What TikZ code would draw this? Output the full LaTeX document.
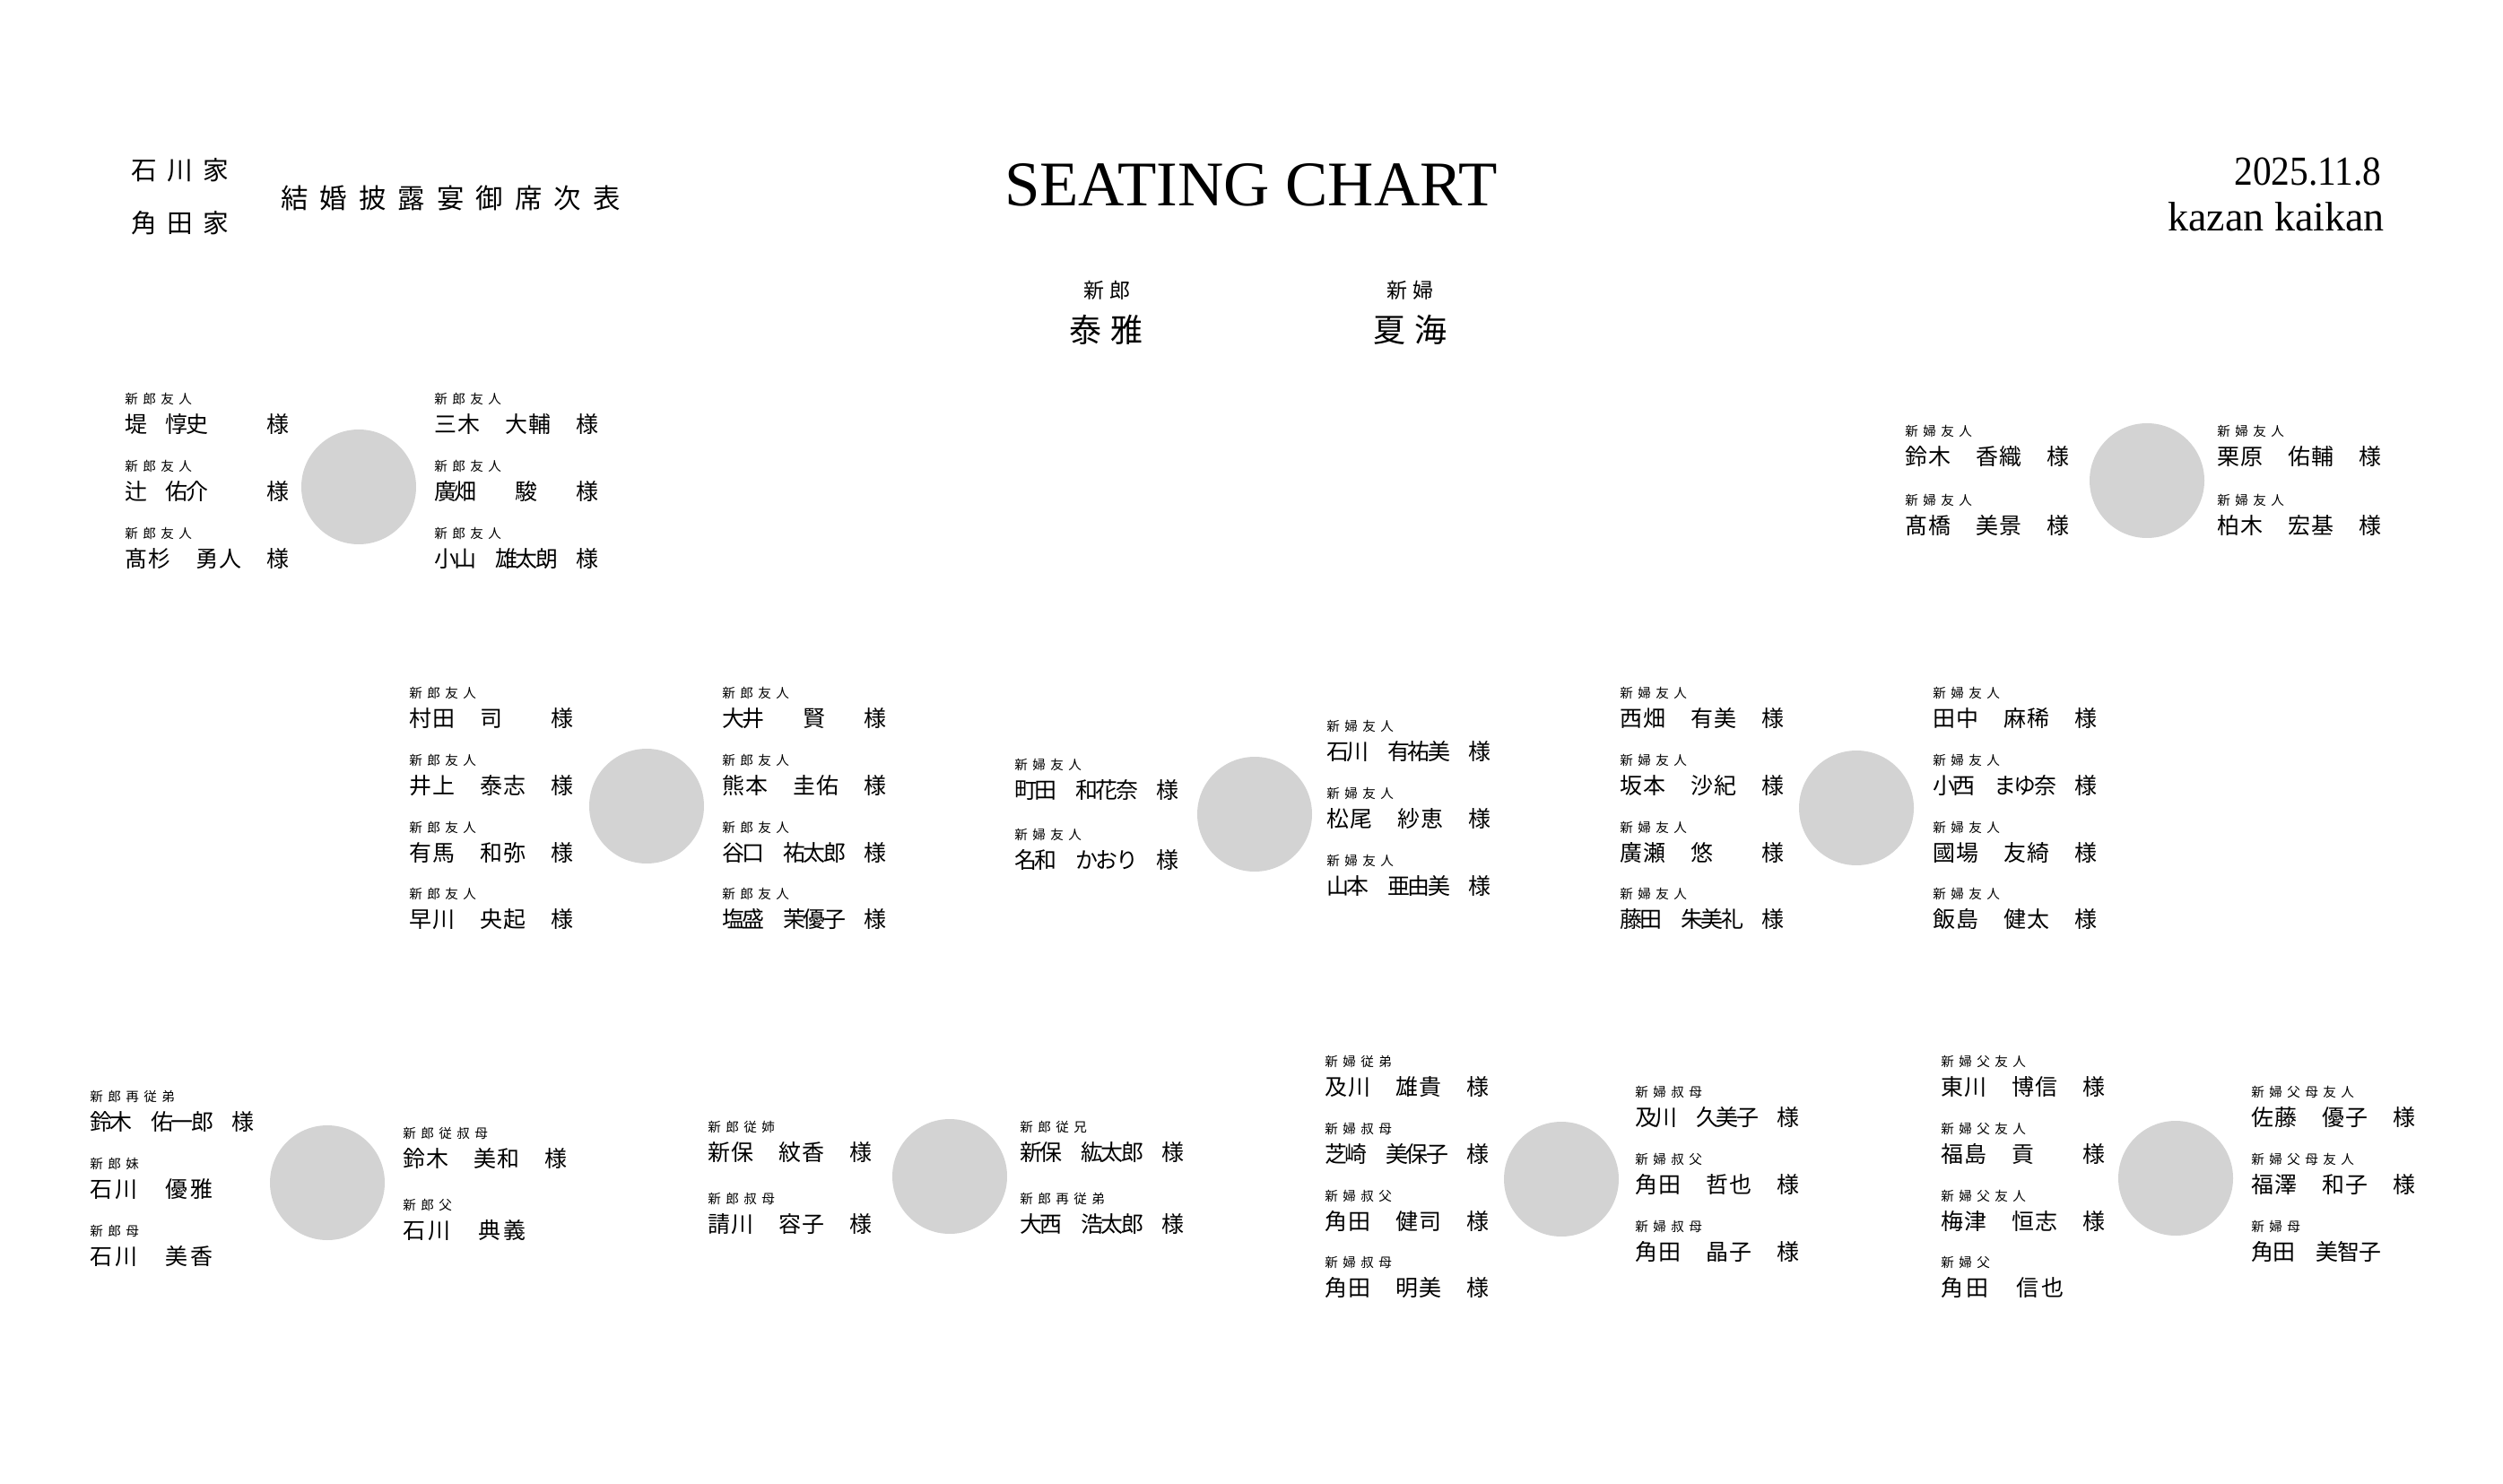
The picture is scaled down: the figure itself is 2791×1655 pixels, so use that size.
\documentclass[tikz,border=0pt]{standalone}
\usepackage{fontspec}
\setmainfont{Liberation Serif}
\newfontfamily\jpfont{Noto Sans CJK JP}
\newfontfamily\narrowfont[FakeStretch=0.9]{Liberation Serif}
\definecolor{tablegray}{RGB}{211,211,211}

% characters set in equal cells
\newlength\cellw
\newcount\cellnum
\def\putcells#1{\putcellsA#1\relax}
\def\putcellsA#1{\ifx#1\relax\else\makebox[\cellw][l]{#1}\expandafter\putcellsA\fi}
\def\countcells#1{\ifx#1\relax\else\advance\cellnum by 1 \expandafter\countcells\fi}
\newcommand\spaced[2]{\setlength\cellw{#1}\putcells{#2}}
\newcommand\fitname[1]{\cellnum=0 \countcells#1\relax
  \setlength\cellw{\dimexpr 3.16cm/\numexpr\cellnum-1\relax\relax}\putcells{#1}}

% one guest: id, x, y, relation, name
\newcommand\guest[5]{%
  \node[guestlabel] (#1-l) at (#2,#3-28) {\spaced{0.4cm}{#4}};
  \node[guestname] (#1) at (#2,#3) {#5};}

\tikzset{
  tablecircle/.style={circle, fill=tablegray, minimum size=2.56cm, inner sep=0},
  guestname/.style={anchor=west, inner sep=0, font=\jpfont\fontsize{14.2}{16}\selectfont},
  guestlabel/.style={anchor=west, inner sep=0, font=\jpfont\fontsize{8.3}{9}\selectfont},
}

\begin{document}
\begin{tikzpicture}[x=0.02cm, y=-0.02cm]
    \useasboundingbox (0,0) rectangle (2791,1655);
    \fill[white] (0,0) rectangle (2791,1655);

    % header
    \node[anchor=west, inner sep=0, font=\jpfont\fontsize{16.3}{18}\selectfont] (family1) at (146,190) {\spaced{0.8cm}{石川家}};
    \node[anchor=west, inner sep=0, font=\jpfont\fontsize{16.3}{18}\selectfont] (family2) at (146,249) {\spaced{0.8cm}{角田家}};
    \node[anchor=west, inner sep=0, font=\jpfont\fontsize{17.3}{19}\selectfont] (subtitle) at (313,221) {\spaced{0.87cm}{結婚披露宴御席次表}};
    \node[inner sep=0, font=\fontsize{40.4}{44}\selectfont] (title) at (1395,206) {SEATING CHART};
    \node[anchor=base east, inner sep=0, font=\narrowfont\fontsize{26.2}{30}\selectfont] (date) at (2656,207) {2025.11.8};
    \node[anchor=base east, inner sep=0, font=\fontsize{26.2}{30}\selectfont] (venue) at (2659,258) {kazan kaikan};

    % main table
    \node[anchor=west, inner sep=0, font=\jpfont\fontsize{13.1}{15}\selectfont] (groom-l) at (1208,324) {\spaced{0.58cm}{新郎}};
    \node[anchor=west, inner sep=0, font=\jpfont\fontsize{20.5}{23}\selectfont] (groom) at (1192,368) {\spaced{0.92cm}{泰雅}};
    \node[anchor=west, inner sep=0, font=\jpfont\fontsize{13.1}{15}\selectfont] (bride-l) at (1546,324) {\spaced{0.58cm}{新婦}};
    \node[anchor=west, inner sep=0, font=\jpfont\fontsize{20.5}{23}\selectfont] (bride) at (1531,368) {\spaced{0.92cm}{夏海}};

    % table 1
    \node[tablecircle] (t1) at (400,543) {};
    \guest{t1a}{139}{473}{新郎友人}{\fitname{堤　惇史　　　様}}
    \guest{t1b}{139}{548}{新郎友人}{\fitname{辻　佑介　　　様}}
    \guest{t1c}{139}{623}{新郎友人}{\fitname{髙杉　勇人　様}}
    \guest{t1d}{484}{473}{新郎友人}{\fitname{三木　大輔　様}}
    \guest{t1e}{484}{548}{新郎友人}{\fitname{廣畑　　駿　　様}}
    \guest{t1f}{484}{623}{新郎友人}{\fitname{小山　雄太朗　様}}

    % table 2
    \node[tablecircle] (t2) at (2394,536) {};
    \guest{t2a}{2124}{509}{新婦友人}{\fitname{鈴木　香織　様}}
    \guest{t2b}{2124}{586}{新婦友人}{\fitname{髙橋　美景　様}}
    \guest{t2c}{2472}{509}{新婦友人}{\fitname{栗原　佑輔　様}}
    \guest{t2d}{2472}{586}{新婦友人}{\fitname{柏木　宏基　様}}

    % table 3
    \node[tablecircle] (t3) at (721,899) {};
    \guest{t3a}{456}{801}{新郎友人}{\fitname{村田　司　　様}}
    \guest{t3b}{456}{876}{新郎友人}{\fitname{井上　泰志　様}}
    \guest{t3c}{456}{951}{新郎友人}{\fitname{有馬　和弥　様}}
    \guest{t3d}{456}{1025}{新郎友人}{\fitname{早川　央起　様}}
    \guest{t3e}{805}{801}{新郎友人}{\fitname{大井　　賢　　様}}
    \guest{t3f}{805}{876}{新郎友人}{\fitname{熊本　圭佑　様}}
    \guest{t3g}{805}{951}{新郎友人}{\fitname{谷口　祐太郎　様}}
    \guest{t3h}{805}{1025}{新郎友人}{\fitname{塩盛　茉優子　様}}

    % table 4
    \node[tablecircle] (t4) at (1399,908) {};
    \guest{t4a}{1131}{881}{新婦友人}{\fitname{町田　和花奈　様}}
    \guest{t4b}{1131}{959}{新婦友人}{\fitname{名和　かおり　様}}
    \guest{t4c}{1479}{838}{新婦友人}{\fitname{石川　有祐美　様}}
    \guest{t4d}{1479}{913}{新婦友人}{\fitname{松尾　紗恵　様}}
    \guest{t4e}{1479}{988}{新婦友人}{\fitname{山本　亜由美　様}}

    % table 5
    \node[tablecircle] (t5) at (2070,901) {};
    \guest{t5a}{1806}{801}{新婦友人}{\fitname{西畑　有美　様}}
    \guest{t5b}{1806}{876}{新婦友人}{\fitname{坂本　沙紀　様}}
    \guest{t5c}{1806}{951}{新婦友人}{\fitname{廣瀬　悠　　様}}
    \guest{t5d}{1806}{1025}{新婦友人}{\fitname{藤田　朱美礼　様}}
    \guest{t5e}{2155}{801}{新婦友人}{\fitname{田中　麻稀　様}}
    \guest{t5f}{2155}{876}{新婦友人}{\fitname{小西　まゆ奈　様}}
    \guest{t5g}{2155}{951}{新婦友人}{\fitname{國場　友綺　様}}
    \guest{t5h}{2155}{1025}{新婦友人}{\fitname{飯島　健太　様}}

    % table 6
    \node[tablecircle] (t6) at (365,1319) {};
    \guest{t6a}{100}{1251}{新郎再従弟}{\fitname{鈴木　佑一郎　様}}
    \guest{t6b}{100}{1326}{新郎妹}{\spaced{0.56cm}{石川　優雅}}
    \guest{t6c}{100}{1401}{新郎母}{\spaced{0.56cm}{石川　美香}}
    \guest{t6d}{449}{1292}{新郎従叔母}{\fitname{鈴木　美和　様}}
    \guest{t6e}{449}{1372}{新郎父}{\spaced{0.56cm}{石川　典義}}

    % table 7
    \node[tablecircle] (t7) at (1059,1312) {};
    \guest{t7a}{789}{1285}{新郎従姉}{\fitname{新保　紋香　様}}
    \guest{t7b}{789}{1365}{新郎叔母}{\fitname{請川　容子　様}}
    \guest{t7c}{1137}{1285}{新郎従兄}{\fitname{新保　紘太郎　様}}
    \guest{t7d}{1137}{1365}{新郎再従弟}{\fitname{大西　浩太郎　様}}

    % table 8
    \node[tablecircle] (t8) at (1741,1315) {};
    \guest{t8a}{1477}{1212}{新婦従弟}{\fitname{及川　雄貴　様}}
    \guest{t8b}{1477}{1287}{新婦叔母}{\fitname{芝崎　美保子　様}}
    \guest{t8c}{1477}{1362}{新婦叔父}{\fitname{角田　健司　様}}
    \guest{t8d}{1477}{1436}{新婦叔母}{\fitname{角田　明美　様}}
    \guest{t8e}{1823}{1246}{新婦叔母}{\fitname{及川　久美子　様}}
    \guest{t8f}{1823}{1321}{新婦叔父}{\fitname{角田　哲也　様}}
    \guest{t8g}{1823}{1396}{新婦叔母}{\fitname{角田　晶子　様}}

    % table 9
    \node[tablecircle] (t9) at (2426,1314) {};
    \guest{t9a}{2164}{1212}{新婦父友人}{\fitname{東川　博信　様}}
    \guest{t9b}{2164}{1287}{新婦父友人}{\fitname{福島　貢　　様}}
    \guest{t9c}{2164}{1362}{新婦父友人}{\fitname{梅津　恒志　様}}
    \guest{t9d}{2164}{1436}{新婦父}{\spaced{0.56cm}{角田　信也}}
    \guest{t9e}{2510}{1246}{新婦父母友人}{\fitname{佐藤　優子　様}}
    \guest{t9f}{2510}{1321}{新婦父母友人}{\fitname{福澤　和子　様}}
    \guest{t9g}{2510}{1396}{新婦母}{\spaced{0.48cm}{角田　美智子}}
\end{tikzpicture}
\end{document}
